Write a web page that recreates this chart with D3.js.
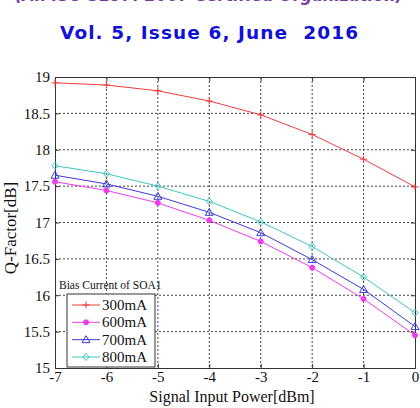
<!DOCTYPE html>
<html>
<head>
<meta charset="utf-8">
<script src="https://cdn.jsdelivr.net/npm/d3@7"></script>
<style>
  body { margin: 0; background: #fff; }
  svg { display: block; }
</style>
</head>
<body>
<div id="chart"></div>
<script>
// x values, in dBm
const inputPower = [ -7, -6, -5, -4, -3, -2, -1, 0 ];

// Q-factor per bias current
const q300 = [ 18.92, 18.89, 18.81, 18.67, 18.48, 18.21, 17.87, 17.49 ];
const q600 = [ 17.56, 17.44, 17.27, 17.03, 16.74, 16.38, 15.95, 15.45 ];
const q700 = [ 17.65, 17.53, 17.36, 17.14, 16.86, 16.49, 16.08, 15.57 ];
const q800 = [ 17.78, 17.67, 17.50, 17.29, 17.01, 16.67, 16.25, 15.76 ];

const seriesNames = [ '300mA', '600mA', '700mA', '800mA' ];
const xTicks = [ -7, -6, -5, -4, -3, -2, -1, 0 ];
const yTicks = [ 15, 15.5, 16, 16.5, 17, 17.5, 18, 18.5, 19 ];

const series = [
  { name: seriesNames[0], values: q300, color: '#f03c3c', marker: 'plus' },
  { name: seriesNames[1], values: q600, color: '#ee3cee', marker: 'dot' },
  { name: seriesNames[2], values: q700, color: '#3c3cdc', marker: 'triangle' },
  { name: seriesNames[3], values: q800, color: '#3cc8c0', marker: 'diamond' }
];

const width = 420, height = 408;
const margin = { top: 77, right: 5, bottom: 40, left: 55 },
    plot_width = width - margin.left - margin.right,
    plot_height = height - margin.top - margin.bottom;

const svg = d3.select( '#chart' )
  .append( 'svg' )
    .attr( 'width', width )
    .attr( 'height', height );

// journal header, clipped at the top
svg.append( 'text' )
  .attr( 'x', 15 ).attr( 'y', 1 )
  .attr( 'textLength', 388 ).attr( 'lengthAdjust', 'spacingAndGlyphs' )
  .style( 'font-family', 'DejaVu Sans' ).style( 'font-weight', 'bold' ).style( 'font-style', 'italic' )
  .style( 'font-size', '17px' ).style( 'fill', '#7a3aa0' )
  .text( '(An ISO 3297: 2007 Certified Organization)' );

svg.append( 'text' )
  .attr( 'x', 60 ).attr( 'y', 39 )
  .attr( 'textLength', 298 ).attr( 'lengthAdjust', 'spacing' )
  .style( 'font-family', 'DejaVu Sans' ).style( 'font-weight', 'bold' )
  .style( 'font-size', '18.5px' ).style( 'fill', '#1010d8' )
  .style( 'white-space', 'pre' )
  .text( 'Vol. 5, Issue 6, June  2016' );

const g = svg.append( 'g' )
  .attr( 'transform', 'translate(' + margin.left + ',' + margin.top + ')' );

const x = d3.scaleLinear().domain( [ -7, 0 ] ).range( [ 0, plot_width ] );
const y = d3.scaleLinear().domain( [ 15, 19 ] ).range( [ plot_height, 0 ] );

// dotted grid
g.append( 'g' ).selectAll( 'line' )
  .data( xTicks.slice( 1, -1 ) )
  .enter().append( 'line' )
    .attr( 'x1', d => x( d ) ).attr( 'x2', d => x( d ) )
    .attr( 'y1', 0 ).attr( 'y2', plot_height )
    .attr( 'stroke', '#444' ).attr( 'stroke-dasharray', '2,2' );
g.append( 'g' ).selectAll( 'line' )
  .data( yTicks.slice( 1, -1 ) )
  .enter().append( 'line' )
    .attr( 'x1', 0 ).attr( 'x2', plot_width )
    .attr( 'y1', d => y( d ) ).attr( 'y2', d => y( d ) )
    .attr( 'stroke', '#444' ).attr( 'stroke-dasharray', '2,2' );

// axes, plain hyphen minus signs like the original
const plain = d => String( d );
const xAxis = g.append( 'g' )
  .attr( 'transform', 'translate(0,' + plot_height + ')' )
  .call( d3.axisBottom( x ).tickValues( xTicks ).tickSize( -4 ).tickPadding( 6 ).tickFormat( plain ) );
const yAxis = g.append( 'g' )
  .call( d3.axisLeft( y ).tickValues( yTicks ).tickSize( -4 ).tickPadding( 5 ).tickFormat( plain ) );
g.append( 'g' )
  .call( d3.axisTop( x ).tickValues( xTicks ).tickSize( -4 ).tickFormat( '' ) );
g.append( 'g' )
  .attr( 'transform', 'translate(' + plot_width + ',0)' )
  .call( d3.axisRight( y ).tickValues( yTicks ).tickSize( -4 ).tickFormat( '' ) );

g.selectAll( '.domain' ).attr( 'stroke', '#333' );
g.selectAll( '.tick line' ).attr( 'stroke', '#333' );
g.selectAll( '.tick text' )
  .style( 'font-family', 'Liberation Serif' ).style( 'font-size', '15px' ).attr( 'fill', '#111' );
xAxis.selectAll( '.tick text' ).attr( 'dy', '0.55em' );

// axis titles
svg.append( 'text' )
  .attr( 'x', 232 ).attr( 'y', 402 )
  .attr( 'text-anchor', 'middle' )
  .style( 'font-family', 'Liberation Serif' ).style( 'font-size', '16px' ).style( 'fill', '#111' )
  .text( 'Signal Input Power[dBm]' );
svg.append( 'text' )
  .attr( 'transform', 'translate(16,228) rotate(-90)' )
  .attr( 'text-anchor', 'middle' )
  .style( 'font-family', 'Liberation Serif' ).style( 'font-size', '17px' ).style( 'fill', '#111' )
  .text( 'Q-Factor[dB]' );

function drawMarker( sel, type, color ) {
  if ( type === 'plus' ) {
    sel.append( 'path' ).attr( 'd', 'M-3.5,0H3.5M0,-3.5V3.5' )
      .attr( 'stroke', color ).attr( 'fill', 'none' );
  } else if ( type === 'dot' ) {
    sel.append( 'circle' ).attr( 'r', 2.5 ).attr( 'fill', color ).attr( 'stroke', color );
  } else if ( type === 'triangle' ) {
    sel.append( 'path' ).attr( 'd', 'M0,-4L4,3H-4Z' )
      .attr( 'stroke', color ).attr( 'fill', 'none' );
  } else {
    sel.append( 'path' ).attr( 'd', 'M0,-3.5L3,0L0,3.5L-3,0Z' )
      .attr( 'stroke', color ).attr( 'fill', 'none' );
  }
}

const line = d3.line()
  .x( ( d, i ) => x( inputPower[ i ] ) )
  .y( d => y( d ) );

series.forEach( function( s ) {
  g.append( 'path' )
    .datum( s.values )
    .attr( 'd', line )
    .attr( 'fill', 'none' )
    .attr( 'stroke', s.color )
    .attr( 'stroke-width', 1 );
  g.append( 'g' ).selectAll( 'g' )
    .data( s.values )
    .enter().append( 'g' )
      .attr( 'transform', ( d, i ) => 'translate(' + x( inputPower[ i ] ) + ',' + y( d ) + ')' )
      .each( function() { drawMarker( d3.select( this ), s.marker, s.color ); } );
} );

// legend
svg.append( 'text' )
  .attr( 'x', 59 ).attr( 'y', 289 )
  .style( 'font-family', 'Liberation Serif' ).style( 'font-size', '11.5px' ).style( 'fill', '#111' )
  .text( 'Bias Current of SOA1' );

const legend = svg.append( 'g' ).attr( 'transform', 'translate(67,294)' );
legend.append( 'rect' )
  .attr( 'width', 88 ).attr( 'height', 73 )
  .attr( 'fill', '#fff' ).attr( 'stroke', '#333' );

const legendRow = d3.scaleLinear().domain( [ 0, 3 ] ).range( [ 11, 63 ] );
series.forEach( function( s, i ) {
  const row = legend.append( 'g' ).attr( 'transform', 'translate(0,' + legendRow( i ) + ')' );
  row.append( 'line' ).attr( 'x1', 5 ).attr( 'x2', 33 )
    .attr( 'stroke', s.color );
  drawMarker( row.append( 'g' ).attr( 'transform', 'translate(19,0)' ), s.marker, s.color );
  row.append( 'text' )
    .attr( 'x', 35 ).attr( 'y', 5 )
    .style( 'font-family', 'Liberation Serif' ).style( 'font-size', '15px' ).style( 'fill', '#111' )
    .text( s.name );
} );
</script>
</body>
</html>
